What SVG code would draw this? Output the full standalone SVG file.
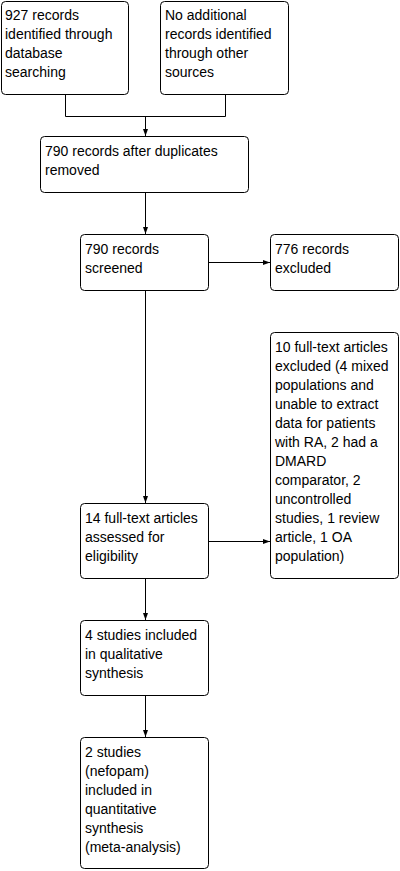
<svg xmlns="http://www.w3.org/2000/svg" width="400" height="871" viewBox="0 0 400 871">
<style>
.box{fill:#fff;stroke:#000;stroke-width:1}
.t{font-family:"Liberation Sans",Arial,sans-serif;font-size:14px;fill:#000}
.c{fill:none;stroke:#000;stroke-width:1}
</style>
<defs>
<marker id="ah" markerUnits="userSpaceOnUse" markerWidth="7" markerHeight="6" refX="7" refY="3" orient="auto">
<path d="M0,0.5 L7,3 L0,5.5 z" fill="#000"/>
</marker>
</defs>
<rect width="400" height="871" fill="#fff"/>
<g id="connectors">
<path class="c" d="M65.5,94.5 V116.5 H225.5 V94.5"/>
<path class="c" d="M145.5,116.5 V136" marker-end="url(#ah)"/>
<path class="c" d="M145.5,192.5 V234" marker-end="url(#ah)"/>
<path class="c" d="M208.5,262.5 H270" marker-end="url(#ah)"/>
<path class="c" d="M145.5,290.5 V503" marker-end="url(#ah)"/>
<path class="c" d="M208.5,541.5 H270" marker-end="url(#ah)"/>
<path class="c" d="M145.5,578.5 V620" marker-end="url(#ah)"/>
<path class="c" d="M145.5,695.5 V737" marker-end="url(#ah)"/>
</g>
<g id="n1">
<rect class="box" x="1.5" y="1.5" width="127" height="93" rx="4"/>
<text class="t" x="5" y="20"><tspan x="5">927 records</tspan><tspan x="5" dy="19">identified through</tspan><tspan x="5" dy="19">database</tspan><tspan x="5" dy="19">searching</tspan></text>
</g>
<g id="n2">
<rect class="box" x="160.5" y="1.5" width="128" height="93" rx="4"/>
<text class="t" x="165" y="20"><tspan x="165">No additional</tspan><tspan x="165" dy="19">records identified</tspan><tspan x="165" dy="19">through other</tspan><tspan x="165" dy="19">sources</tspan></text>
</g>
<g id="n3">
<rect class="box" x="40.5" y="136.5" width="208" height="56" rx="4"/>
<text class="t" x="45" y="155.5"><tspan x="45">790 records after duplicates</tspan><tspan x="45" dy="19">removed</tspan></text>
</g>
<g id="n4">
<rect class="box" x="80.5" y="234.5" width="128" height="56" rx="4"/>
<text class="t" x="85" y="253.5"><tspan x="85">790 records</tspan><tspan x="85" dy="19">screened</tspan></text>
</g>
<g id="n5">
<rect class="box" x="270.5" y="234.5" width="128" height="56" rx="4"/>
<text class="t" x="275" y="253.5"><tspan x="275">776 records</tspan><tspan x="275" dy="19">excluded</tspan></text>
</g>
<g id="n6">
<rect class="box" x="80.5" y="503.5" width="128" height="75" rx="4"/>
<text class="t" x="85" y="522.5"><tspan x="85">14 full-text articles</tspan><tspan x="85" dy="19">assessed for</tspan><tspan x="85" dy="19">eligibility</tspan></text>
</g>
<g id="n7">
<rect class="box" x="270.5" y="332.5" width="128" height="246" rx="4"/>
<text class="t" x="275" y="351.5"><tspan x="275">10 full-text articles</tspan><tspan x="275" dy="19">excluded (4 mixed</tspan><tspan x="275" dy="19">populations and</tspan><tspan x="275" dy="19">unable to extract</tspan><tspan x="275" dy="19">data for patients</tspan><tspan x="275" dy="19">with RA, 2 had a</tspan><tspan x="275" dy="19">DMARD</tspan><tspan x="275" dy="19">comparator, 2</tspan><tspan x="275" dy="19">uncontrolled</tspan><tspan x="275" dy="19">studies, 1 review</tspan><tspan x="275" dy="19">article, 1 OA</tspan><tspan x="275" dy="19">population)</tspan></text>
</g>
<g id="n8">
<rect class="box" x="80.5" y="620.5" width="128" height="75" rx="4"/>
<text class="t" x="85" y="639.5"><tspan x="85">4 studies included</tspan><tspan x="85" dy="19">in qualitative</tspan><tspan x="85" dy="19">synthesis</tspan></text>
</g>
<g id="n9">
<rect class="box" x="80.5" y="737.5" width="128" height="131" rx="4"/>
<text class="t" x="85" y="756.5"><tspan x="85">2 studies</tspan><tspan x="85" dy="19">(nefopam)</tspan><tspan x="85" dy="19">included in</tspan><tspan x="85" dy="19">quantitative</tspan><tspan x="85" dy="19">synthesis</tspan><tspan x="85" dy="19">(meta-analysis)</tspan></text>
</g>
</svg>
